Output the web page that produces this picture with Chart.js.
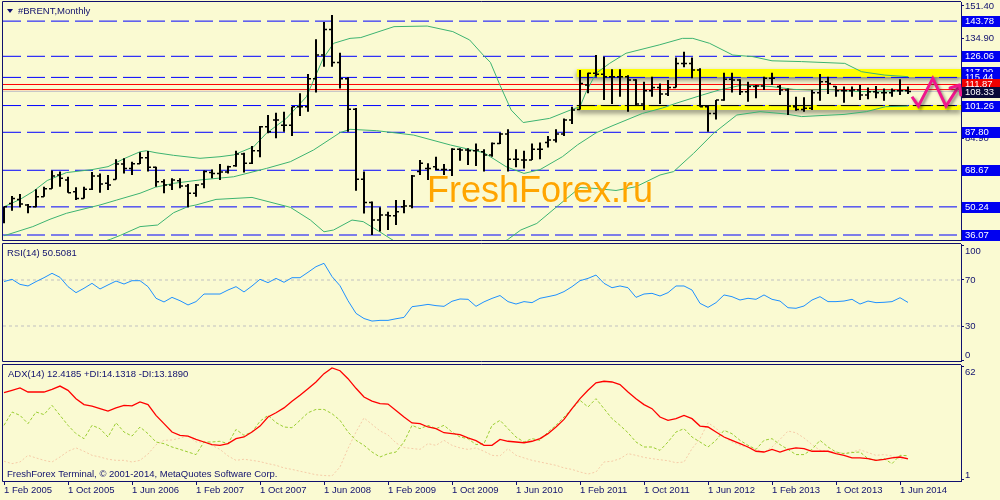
<!DOCTYPE html>
<html>
<head>
<meta charset="utf-8">
<title>#BRENT, Monthly</title>
<script src="https://cdn.jsdelivr.net/npm/chart.js"></script>
<style>
  html, body { margin: 0; padding: 0; background: #FAFAD2; }
  #wrap { position: relative; width: 1000px; height: 500px; overflow: hidden; background: #FAFAD2; }
  #wrap canvas { position: absolute; left: 0; }
</style>
</head>
<body>
<div id="wrap">
  <canvas id="priceChart" width="1000" height="242" style="top:0px"></canvas>
  <canvas id="rsiChart" width="1000" height="121" style="top:242px"></canvas>
  <canvas id="adxChart" width="1000" height="137" style="top:363px"></canvas>
</div>
<script>
// monthly bars, Feb 2005 .. Jul 2014 (index 0 = Feb 2005)
const openP = [42.8, 52.0, 54.0, 51.2, 50.3, 55.4, 59.4, 66.3, 63.8, 57.9,
  54.5, 59.1, 65.8, 62.1, 64.0, 71.8, 69.6, 72.0, 75.0, 70.2,
  62.9, 61.3, 63.4, 60.7, 57.1, 61.8, 67.5, 67.1, 67.8, 71.0,
  76.9, 72.2, 78.5, 90.6, 94.0, 91.3, 91.3, 100.7, 100.7, 114.8,
  126.7, 139.6, 123.0, 114.8, 99.4, 64.1, 52.5, 43.6, 46.1, 45.8,
  50.3, 50.7, 68.0, 69.6, 70.5, 69.1, 68.8, 79.2, 78.9, 78.5,
  78.0, 76.4, 82.2, 86.9, 74.2, 73.8, 73.8, 79.2, 82.6, 83.9,
  86.9, 94.0, 99.3, 111.6, 117.5, 117.0, 115.8, 115.8, 115.8, 114.1,
  102.0, 108.7, 110.4, 107.1, 110.4, 122.5, 122.5, 119.2, 100.7, 97.3,
  104.1, 114.5, 114.1, 108.2, 110.8, 111.1, 115.0, 110.8, 109.1, 100.7,
  99.3, 99.9, 107.7, 113.3, 110.8, 108.7, 108.7, 109.1, 106.6, 108.2,
  107.7, 107.7, 108.7, 108.7];
const highP = [50.3, 55.7, 56.7, 51.7, 59.1, 60.4, 68.5, 68.0, 65.4, 60.1,
  60.4, 67.8, 67.1, 66.3, 74.2, 74.7, 73.0, 77.7, 78.4, 70.5,
  64.1, 64.6, 64.6, 61.8, 61.8, 68.5, 69.1, 71.8, 71.0, 78.5,
  77.5, 80.9, 91.0, 96.5, 97.7, 98.2, 100.7, 107.4, 117.2, 134.6,
  143.3, 146.9, 127.9, 115.5, 100.0, 68.0, 52.9, 50.0, 47.8, 53.7,
  53.7, 66.3, 73.8, 72.2, 75.5, 71.8, 79.7, 79.7, 79.7, 82.2,
  79.2, 82.6, 87.6, 89.3, 79.2, 78.5, 82.2, 82.6, 85.9, 89.3,
  94.8, 100.7, 119.2, 117.8, 126.7, 125.9, 119.5, 119.5, 116.5, 114.5,
  113.3, 115.8, 112.4, 114.1, 125.5, 128.4, 125.5, 120.0, 101.0, 104.1,
  117.8, 117.8, 114.5, 113.3, 111.6, 115.8, 117.8, 111.6, 109.9, 105.7,
  105.4, 109.1, 117.2, 115.8, 111.1, 110.8, 110.8, 111.6, 110.4, 111.1,
  109.9, 109.9, 114.5, 110.8];
const lowP = [42.0, 48.3, 50.0, 47.0, 50.0, 55.4, 59.4, 60.4, 57.4, 53.7,
  54.5, 58.7, 57.4, 58.7, 64.0, 67.1, 66.3, 71.8, 68.0, 60.4,
  57.1, 58.7, 59.6, 50.0, 55.4, 59.6, 64.6, 63.8, 67.1, 70.5,
  67.5, 71.8, 75.2, 87.3, 84.8, 88.1, 85.9, 96.0, 98.2, 107.8,
  120.8, 120.8, 109.9, 88.1, 58.4, 46.9, 36.1, 37.9, 38.6, 41.1,
  47.0, 49.5, 66.3, 63.8, 68.8, 66.3, 65.8, 73.5, 71.3, 70.8,
  68.0, 75.5, 81.9, 68.0, 70.2, 69.6, 73.8, 74.2, 80.2, 82.6,
  85.9, 92.0, 99.3, 107.4, 115.8, 104.1, 102.0, 105.7, 98.2, 101.5,
  99.0, 105.7, 102.0, 106.1, 110.4, 120.5, 115.0, 100.7, 88.1, 94.3,
  103.7, 107.8, 106.6, 103.2, 104.9, 109.1, 111.6, 106.6, 96.5, 98.7,
  98.2, 99.0, 103.7, 107.1, 105.7, 102.7, 105.7, 104.1, 104.4, 104.9,
  103.7, 105.7, 106.6, 107.1];
const closeP = [50.3, 54.5, 51.7, 50.3, 55.4, 59.4, 65.8, 64.6, 57.4, 54.5,
  59.1, 65.8, 61.8, 61.3, 71.8, 69.6, 72.0, 75.0, 70.2, 62.9,
  61.3, 63.8, 60.7, 57.1, 61.3, 68.0, 67.1, 67.8, 70.5, 76.9,
  72.2, 78.5, 90.6, 88.1, 94.0, 91.3, 100.7, 100.7, 114.8, 126.7,
  139.6, 123.0, 114.8, 99.4, 64.1, 52.5, 43.6, 46.1, 45.8, 47.8,
  50.7, 65.8, 72.2, 69.6, 69.1, 69.1, 79.2, 78.9, 78.5, 78.9,
  76.4, 82.2, 86.9, 74.2, 74.2, 73.8, 79.2, 79.2, 83.9, 86.9,
  94.0, 99.0, 112.4, 117.5, 117.0, 115.8, 115.8, 115.8, 114.1, 102.0,
  108.7, 110.4, 107.1, 110.4, 122.5, 122.5, 119.2, 100.7, 97.3, 104.1,
  114.5, 114.1, 108.2, 110.8, 111.1, 115.0, 115.0, 109.1, 101.0, 99.3,
  99.9, 107.7, 113.3, 112.4, 108.7, 108.7, 109.1, 106.6, 108.2, 107.7,
  107.7, 108.7, 108.7, 108.33];

// Bollinger bands as [bar index, price]
const bbUpper = [[0, 50.3], [2, 54.0], [3.6, 57.9], [5.4, 63.5], [7.8, 67.5], [11, 69.0], [13, 70.5],
  [15, 74.5], [17, 78.0], [17.8, 78.5], [19, 77.5], [21.2, 76.2], [24.5, 74.7], [27, 75.5], [28.7, 76.4],
  [31.2, 80.5], [32.8, 87.3], [35.3, 94.8], [37.8, 105.7], [39.9, 125.0], [41.2, 132.6], [43.25, 135.1],
  [44.6, 135.5], [48.75, 141.0], [52.9, 141.3], [56.1, 138.5], [58.2, 134.3], [59.9, 126.7], [60.8, 123.0],
  [62, 111.5], [63.4, 99.0], [64.9, 92.7], [68.2, 94.8], [70.8, 99.0], [72, 100.7], [72.75, 108.0],
  [74, 117.5], [75.7, 122.5], [77.75, 127.6], [81.9, 131.8], [84.8, 135.1], [86.1, 135.1], [88.2, 132.6],
  [91.1, 126.7], [93.6, 125.9], [96, 123.8], [99.7, 123.4], [105.1, 122.5], [107.2, 118.3], [110.1, 116.6],
  [113, 115.8]];
const bbMiddle = [[0, 35.7], [3.6, 40.3], [5.75, 44.0], [7.8, 47.0], [12, 51.2], [14.1, 53.7], [17, 57.1],
  [18.9, 60.1], [21.2, 62.1], [24.5, 63.8], [28.7, 65.4], [32.8, 69.6], [35.8, 73.0], [38.7, 78.9],
  [42, 87.6], [43.25, 89.3], [46.6, 88.6], [51.2, 86.4], [55.8, 81.4], [60, 77.5], [62.75, 70.5],
  [65, 67.1], [67, 69.0], [69.8, 75.5], [71.7, 81.5], [74, 87.5], [76, 91.0], [79.8, 97.3], [82.3, 100.0],
  [84, 102.4], [87.3, 106.6], [89.4, 109.1], [92.3, 111.6], [96, 110.8], [98.7, 109.4], [100.75, 109.1],
  [102.8, 109.4], [107, 108.3], [113, 108.8]];
const bbLower = [[0, 21.0], [6, 25.0], [11, 31.0], [13.3, 33.9], [14.6, 36.0], [17, 40.3], [19.2, 41.1],
  [21.2, 47.3], [23, 50.4], [24, 51.2], [26.5, 54.0], [31, 55.0], [35.8, 50.0], [38.3, 43.6], [40, 37.7],
  [41.2, 38.6], [43.5, 43.6], [44.9, 42.8], [46.6, 38.6], [48.25, 34.4], [50, 30.0], [53, 26.0], [56, 25.0],
  [59, 27.0], [61.5, 31.0], [62.9, 33.6], [64.6, 38.6], [66.6, 41.9], [69.3, 51.0], [72, 60.0], [74, 59.5],
  [76.5, 58.5], [79, 60.4], [82, 66.3], [83.7, 68.0], [86.2, 77.2], [88.7, 87.3], [91.6, 96.5], [94.5, 98.2],
  [97.8, 97.0], [99.7, 95.7], [102, 96.2], [105, 96.8], [107.8, 98.2], [110.2, 100.7], [113, 101.0]];

// horizontal levels
const blueLevels = [143.78, 126.06, 115.44, 101.26, 87.80, 68.67, 50.24, 36.07];
const redLevels = [111.87, 109.3];
const bidLevel = 108.33;
const bandLevels = [117.6, 100.3];   // yellow support / resistance zone
const bandStart = 71.6;
const zigX = [113.5, 114.3, 116.1, 117.75, 119.45];
const zigY = [105.7, 101.0, 115.0, 101.0, 111.6];

// price axis
const priceTicks = [151.40, 134.90, 84.90];
const boxValues = [143.78, 126.06, 117.99, 115.44, 111.87, 108.33, 101.26, 87.80, 68.67, 50.24, 36.07];
const boxKinds = ['line', 'line', 'line', 'line', 'alert', 'bid', 'line', 'line', 'line', 'line', 'line'];

// indicators
const rsi = [68.6, 70.6, 66.2, 64.8, 68.6, 72.0, 75.8, 72.3, 64.2, 59.0,
  62.8, 67.1, 62.2, 65.7, 69.1, 66.5, 69.4, 69.4, 64.2, 54.1,
  50.9, 54.9, 52.0, 48.3, 51.2, 57.8, 57.8, 57.8, 61.3, 64.2,
  59.6, 64.8, 70.6, 67.7, 71.4, 68.0, 72.0, 72.0, 76.7, 81.6,
  84.5, 73.0, 65.0, 52.0, 41.0, 36.5, 34.3, 34.9, 34.9, 36.3,
  37.5, 46.8, 47.7, 48.8, 47.7, 47.1, 51.5, 53.5, 53.2, 47.1,
  51.0, 54.0, 56.5, 51.2, 49.1, 51.2, 50.3, 54.1, 55.5, 57.0,
  59.9, 64.2, 69.4, 71.4, 74.3, 67.1, 63.3, 64.8, 63.3, 54.9,
  57.8, 58.4, 56.1, 59.0, 64.8, 64.8, 61.3, 49.7, 46.2, 50.3,
  57.0, 55.5, 52.6, 54.1, 53.2, 57.0, 53.2, 51.7, 45.9, 45.4,
  47.4, 52.6, 55.5, 51.2, 51.2, 51.7, 53.2, 49.1, 51.7, 50.3,
  50.6, 51.2, 54.6, 50.5];
const rsiLevels = [70, 30];
const rsiTicks = [100, 70, 30, 0];

const adx = [48.1, 49.4, 50.7, 48.5, 48.5, 48.5, 49.9, 51.7, 49.4, 44.9,
  41.7, 40.9, 39.5, 38.2, 39.9, 41.3, 41.0, 43.1, 41.7, 35.9,
  31.4, 26.9, 25.1, 24.7, 22.9, 21.5, 20.1, 19.7, 20.6, 23.3,
  24.2, 26.9, 30.1, 35.0, 37.3, 39.9, 43.5, 46.7, 50.3, 53.9,
  58.4, 61.5, 60.0, 55.7, 50.5, 45.8, 43.6, 42.2, 42.0, 38.5,
  35.0, 31.8, 31.4, 29.6, 28.7, 26.5, 26.0, 25.5, 23.7, 22.2,
  19.7, 19.7, 22.9, 21.9, 21.5, 21.1, 21.9, 23.3, 26.0, 29.6,
  33.7, 39.5, 44.9, 49.4, 53.5, 54.3, 53.9, 52.5, 48.5, 44.9,
  41.7, 39.5, 35.0, 33.2, 34.1, 35.9, 34.1, 30.1, 29.6, 26.9,
  24.2, 22.4, 20.6, 18.8, 16.5, 16.1, 17.5, 16.1, 17.5, 18.3,
  17.9, 16.5, 16.5, 16.5, 15.2, 14.3, 12.9, 12.9, 12.5, 11.6,
  12.1, 12.9, 13.4, 12.4];
const plusDI = [30.5, 37.7, 35.9, 31.4, 37.7, 36.3, 41.3, 35.9, 30.5, 26.0,
  23.3, 30.5, 28.7, 24.2, 31.9, 26.9, 24.7, 29.6, 26.0, 21.5,
  20.6, 18.8, 17.5, 16.1, 14.7, 21.5, 21.5, 21.9, 20.6, 28.3,
  25.1, 26.9, 32.7, 35.9, 32.0, 29.6, 29.2, 33.2, 37.3, 39.1,
  39.1, 36.8, 33.2, 26.9, 22.4, 19.7, 16.1, 13.4, 15.2, 16.1,
  21.5, 30.5, 28.7, 30.5, 28.7, 30.5, 26.9, 24.2, 23.3, 20.1,
  20.6, 30.5, 33.2, 28.7, 24.2, 21.5, 23.3, 22.4, 26.9, 30.5,
  35.0, 39.5, 44.0, 40.4, 44.9, 39.5, 34.1, 30.5, 26.5, 21.5,
  18.8, 18.8, 17.0, 21.5, 26.9, 28.7, 24.2, 21.5, 18.8, 22.4,
  27.8, 26.0, 22.4, 19.7, 17.5, 22.4, 23.3, 20.1, 17.5, 14.7,
  14.7, 17.5, 22.4, 18.8, 16.1, 15.2, 15.8, 16.1, 12.5, 11.6,
  12.5, 9.8, 14.3, 14.1];
const minusDI = [11.1, 9.8, 10.7, 14.3, 12.9, 11.6, 10.7, 13.4, 16.5, 18.3,
  16.5, 14.3, 13.4, 12.2, 11.6, 11.6, 10.7, 11.6, 15.0, 20.0,
  22.4, 22.6, 23.5, 25.0, 21.5, 21.5, 19.7, 17.5, 14.0, 11.6,
  12.2, 11.6, 10.9, 9.8, 8.9, 7.5, 6.7, 5.7, 4.8, 3.8,
  3.4, 3.2, 8.0, 18.0, 26.9, 34.5, 31.0, 27.5, 25.3, 21.0,
  18.5, 18.0, 17.5, 20.6, 19.7, 22.4, 19.7, 18.3, 17.5, 18.3,
  16.5, 14.3, 14.0, 17.9, 14.3, 12.9, 11.6, 10.7, 9.8, 8.9,
  7.5, 6.7, 5.3, 4.2, 5.3, 10.7, 11.1, 12.5, 15.2, 14.3,
  13.2, 12.5, 11.9, 11.4, 10.3, 10.7, 17.9, 23.3, 31.9, 29.0,
  24.2, 21.5, 19.7, 18.6, 17.5, 15.8, 18.8, 22.9, 27.4, 26.5,
  23.7, 20.1, 17.0, 16.5, 16.1, 15.4, 16.1, 17.3, 15.8, 14.3,
  14.7, 14.0, 12.1, 13.2];
const adxTicks = [62, 1];

const dateTickIdx = [0, 8, 16, 24, 32, 40, 48, 56, 64, 72, 80, 88, 96, 104, 112];
const dateLabels = ['1 Feb 2005', '1 Oct 2005', '1 Jun 2006', '1 Feb 2007', '1 Oct 2007', '1 Jun 2008',
  '1 Feb 2009', '1 Oct 2009', '1 Jun 2010', '1 Feb 2011', '1 Oct 2011', '1 Jun 2012', '1 Feb 2013',
  '1 Oct 2013', '1 Jun 2014'];

// ---- look ----
const NAVY = '#10106E';
const BOX_COLORS = { line: '#0000F0', alert: '#F00000', bid: '#0A0A38' };
const X_MIN = -0.125, X_MAX = 119.625;

// MetaTrader uses Tahoma 8pt; take the narrow Liberation face if it is there
function pickFont() {
  const c = document.createElement('canvas').getContext('2d');
  const probe = 'FreshForex Terminal 2014';
  c.font = '20px monospace';
  const base = c.measureText(probe).width;
  c.font = '20px "Liberation Sans Narrow", monospace';
  const narrow = c.measureText(probe).width;
  if (Math.abs(narrow - base) > 0.5) return { family: '"Liberation Sans Narrow"', size: 11 };
  return { family: '"Liberation Sans", Arial, sans-serif', size: 9.5 };
}
const TXT = pickFont();
const cssFont = f => `${f.size}px ${f.family}`;

Chart.defaults.animation = false;
Chart.defaults.events = [];
Chart.defaults.plugins.legend.display = false;
Chart.defaults.plugins.tooltip.enabled = false;
Chart.defaults.elements.point.radius = 0;
Chart.defaults.elements.line.tension = 0;
Chart.defaults.elements.line.borderWidth = 1;
Chart.defaults.elements.line.fill = false;

function pts(xs, ys) {
  return ys.map((y, i) => ({ x: xs ? xs[i] : i, y }));
}
function pairs(list) {
  return list.map(([x, y]) => ({ x, y }));
}
function hline(value, color, width, dash, order, from) {
  return {
    data: [{ x: from === undefined ? X_MIN : from, y: value }, { x: X_MAX, y: value }],
    borderColor: color, borderWidth: width, borderDash: dash || [], borderCapStyle: 'butt', order
  };
}

// right hand value axis; "inside" keeps the end labels within the panel like MT4 does
function rightAxis(min, max, ticks, fmt, inside) {
  return {
    type: 'linear', position: 'right', min, max,
    afterBuildTicks: s => { s.ticks = ticks.map(v => ({ value: v })); },
    afterFit: s => { s.width = 39; s.paddingTop = 0; s.paddingBottom = 0; },
    ticks: { display: !inside, callback: fmt, color: NAVY, font: TXT, padding: 1, autoSkip: false },
    grid: { drawOnChartArea: false, drawTicks: true, tickLength: 3, color: NAVY },
    border: { display: true, color: NAVY }
  };
}

const insideLabels = {
  id: 'insideLabels',
  afterDraw(chart) {
    const s = chart.scales.y;
    if (s.options.ticks.display) return;
    const ctx = chart.ctx;
    ctx.save();
    ctx.fillStyle = NAVY;
    ctx.font = cssFont(TXT);
    ctx.textBaseline = 'middle';
    s.ticks.forEach(t => {
      const y = Math.min(Math.max(s.getPixelForValue(t.value), s.top + 7), s.bottom - 5.5);
      ctx.fillText(String(t.value), s.left + 4, y);
    });
    ctx.restore();
  }
};

// panel frame (left, top, bottom; right side is the axis line)
const framePlugin = {
  id: 'frame',
  afterDraw(chart) {
    const { ctx, chartArea: a } = chart;
    ctx.save();
    ctx.strokeStyle = NAVY;
    ctx.lineWidth = 1;
    ctx.beginPath();
    ctx.moveTo(a.right, a.top - 0.5);
    ctx.lineTo(a.left - 0.5, a.top - 0.5);
    ctx.lineTo(a.left - 0.5, a.bottom + 0.5);
    ctx.lineTo(a.right, a.bottom + 0.5);
    ctx.stroke();
    ctx.restore();
  }
};

// drop shadow for datasets that ask for it
const shadowPlugin = {
  id: 'shadow',
  beforeDatasetDraw(chart, args) {
    const s = chart.data.datasets[args.index].shadow;
    if (!s) return;
    const ctx = chart.ctx;
    ctx.save();
    ctx.shadowColor = s.color;
    ctx.shadowBlur = s.blur;
    ctx.shadowOffsetX = s.dx;
    ctx.shadowOffsetY = s.dy;
  },
  afterDatasetDraw(chart, args) {
    if (chart.data.datasets[args.index].shadow) chart.ctx.restore();
  }
};

function panelTitle(text, x, y) {
  return {
    id: 'title',
    afterDraw(chart) {
      const ctx = chart.ctx;
      ctx.save();
      ctx.fillStyle = NAVY;
      ctx.font = cssFont(TXT);
      ctx.textBaseline = 'middle';
      ctx.fillText(text, x, y);
      ctx.restore();
    }
  };
}

const priceDecor = {
  id: 'priceDecor',
  afterDatasetsDraw(chart) {
    const { ctx, scales } = chart;
    // watermark
    ctx.save();
    ctx.fillStyle = '#FFA500';
    ctx.font = '36px "Liberation Sans", Arial, sans-serif';
    ctx.textBaseline = 'alphabetic';
    ctx.fillText('FreshForex.ru', 427, 202);
    ctx.restore();
    // arrow head at the end of the zigzag
    const n = zigX.length;
    const x1 = scales.x.getPixelForValue(zigX[n - 2]), y1 = scales.y.getPixelForValue(zigY[n - 2]);
    const x2 = scales.x.getPixelForValue(zigX[n - 1]), y2 = scales.y.getPixelForValue(zigY[n - 1]);
    const ang = Math.atan2(y2 - y1, x2 - x1);
    ctx.save();
    ctx.strokeStyle = '#F0168C';
    ctx.lineWidth = 3;
    ctx.lineCap = 'round';
    ctx.shadowColor = 'rgba(40,40,40,0.5)';
    ctx.shadowBlur = 3;
    ctx.shadowOffsetX = 2;
    ctx.shadowOffsetY = 2;
    ctx.beginPath();
    for (const d of [-0.7, 0.7]) {
      ctx.moveTo(x2, y2);
      ctx.lineTo(x2 - 10 * Math.cos(ang + d), y2 - 10 * Math.sin(ang + d));
    }
    ctx.stroke();
    ctx.restore();
  },
  afterDraw(chart) {
    const { ctx, scales } = chart;
    ctx.save();
    // symbol caption
    ctx.fillStyle = NAVY;
    ctx.beginPath();
    ctx.moveTo(7, 9);
    ctx.lineTo(13, 9);
    ctx.lineTo(10, 13);
    ctx.closePath();
    ctx.fill();
    ctx.font = cssFont(TXT);
    ctx.textBaseline = 'middle';
    ctx.fillText('#BRENT,Monthly', 18, 11);
    // price boxes on the axis
    boxValues.forEach((v, k) => {
      const y = Math.round(scales.y.getPixelForValue(v));
      ctx.fillStyle = BOX_COLORS[boxKinds[k]];
      ctx.fillRect(962, y - 5, 38, 11);
      ctx.fillStyle = '#FFFFFF';
      ctx.fillText(v.toFixed(2), 965, y + 0.5);
    });
    ctx.restore();
  }
};

// OHLC bars: high-low stems and open/close ticks, broken by null points
const stemPts = [], tickPts = [];
openP.forEach((o, i) => {
  stemPts.push({ x: i, y: lowP[i] }, { x: i, y: highP[i] }, { x: i, y: null });
  tickPts.push({ x: i - 0.375, y: o }, { x: i, y: o }, { x: i, y: null },
    { x: i, y: closeP[i] }, { x: i + 0.375, y: closeP[i] }, { x: i, y: null });
});

const priceDatasets = [
  { data: pts(zigX, zigY), borderColor: '#F0168C', borderWidth: 3, borderJoinStyle: 'miter', order: 0,
    shadow: { color: 'rgba(40,40,40,0.5)', blur: 3, dx: 2, dy: 2 } },
  { data: stemPts, borderColor: '#000000', borderWidth: 2, order: 1 },
  { data: tickPts, borderColor: '#000000', borderWidth: 1.5, order: 1 },
  { data: pairs(bbUpper), borderColor: '#3CB371', order: 2 },
  { data: pairs(bbMiddle), borderColor: '#3CB371', order: 2 },
  { data: pairs(bbLower), borderColor: '#3CB371', order: 2 },
  hline(bidLevel, '#C8C8C8', 1, [], 3),
  ...redLevels.map(v => hline(v, '#FF0000', 1, [], 3)),
  hline(blueLevels[3], '#000000', 1, [18, 6], 4, bandStart),
  ...blueLevels.map(v => hline(v, '#0000FF', 1, [18, 6], 5)),
  Object.assign(hline(bandLevels[0], '#FFFF00', 8, [], 6, bandStart),
    { shadow: { color: 'rgba(0,0,0,0.45)', blur: 5, dx: 0, dy: 3 } }),
  Object.assign(hline(bandLevels[1], '#FFFF00', 5, [], 6, bandStart),
    { shadow: { color: 'rgba(0,0,0,0.45)', blur: 5, dx: 0, dy: 3 } })
];

new Chart(document.getElementById('priceChart'), {
  type: 'line',
  data: { datasets: priceDatasets },
  options: {
    responsive: false,
    devicePixelRatio: 1,
    layout: { padding: { left: 3, top: 2, right: 0, bottom: 2 } },
    scales: {
      x: { type: 'linear', min: X_MIN, max: X_MAX, display: false },
      y: rightAxis(33.56, 153.41, priceTicks, v => Number(v).toFixed(2), false)
    }
  },
  plugins: [framePlugin, shadowPlugin, priceDecor]
});

new Chart(document.getElementById('rsiChart'), {
  type: 'line',
  data: {
    datasets: [
      { data: pts(null, rsi), borderColor: '#1E90FF', order: 0 },
      ...rsiLevels.map(v => hline(v, '#C0C0C0', 1, [3, 3], 1))
    ]
  },
  options: {
    responsive: false,
    devicePixelRatio: 1,
    layout: { padding: { left: 3, top: 2, right: 0, bottom: 2 } },
    scales: {
      x: { type: 'linear', min: X_MIN, max: X_MAX, display: false },
      y: rightAxis(-0.43, 101.3, rsiTicks, v => String(v), true)
    }
  },
  plugins: [framePlugin, insideLabels, panelTitle('RSI(14) 50.5081', 7, 11)]
});

new Chart(document.getElementById('adxChart'), {
  type: 'line',
  data: {
    datasets: [
      { data: pts(null, adx), borderColor: '#FF0000', borderWidth: 1.3, order: 0 },
      { data: pts(null, plusDI), borderColor: '#9ACD32', borderDash: [3, 2], order: 1 },
      { data: pts(null, minusDI), borderColor: '#F5CBA7', borderDash: [2, 2], order: 2 }
    ]
  },
  options: {
    responsive: false,
    devicePixelRatio: 1,
    layout: { padding: { left: 3, top: 2, right: 0, bottom: 0 } },
    scales: {
      x: {
        type: 'linear', min: X_MIN, max: X_MAX, position: 'bottom',
        afterBuildTicks: s => { s.ticks = dateTickIdx.map(v => ({ value: v })); },
        afterFit: s => { s.height = 19; s.paddingLeft = 0; s.paddingRight = 0; },
        ticks: { callback: (v, k) => dateLabels[k], align: 'start', color: NAVY, font: TXT,
          padding: 0, maxRotation: 0, autoSkip: false },
        grid: { drawOnChartArea: false, drawTicks: true, tickLength: 4, color: NAVY },
        border: { display: true, color: NAVY }
      },
      y: rightAxis(0.44, 63.08, adxTicks, v => String(v), true)
    }
  },
  plugins: [framePlugin, insideLabels, panelTitle('ADX(14) 12.4185 +DI:14.1318 -DI:13.1890', 8, 11),
    panelTitle('FreshForex Terminal, \u00A9 2001-2014, MetaQuotes Software Corp.', 7, 111)]
});
</script>
</body>
</html>
